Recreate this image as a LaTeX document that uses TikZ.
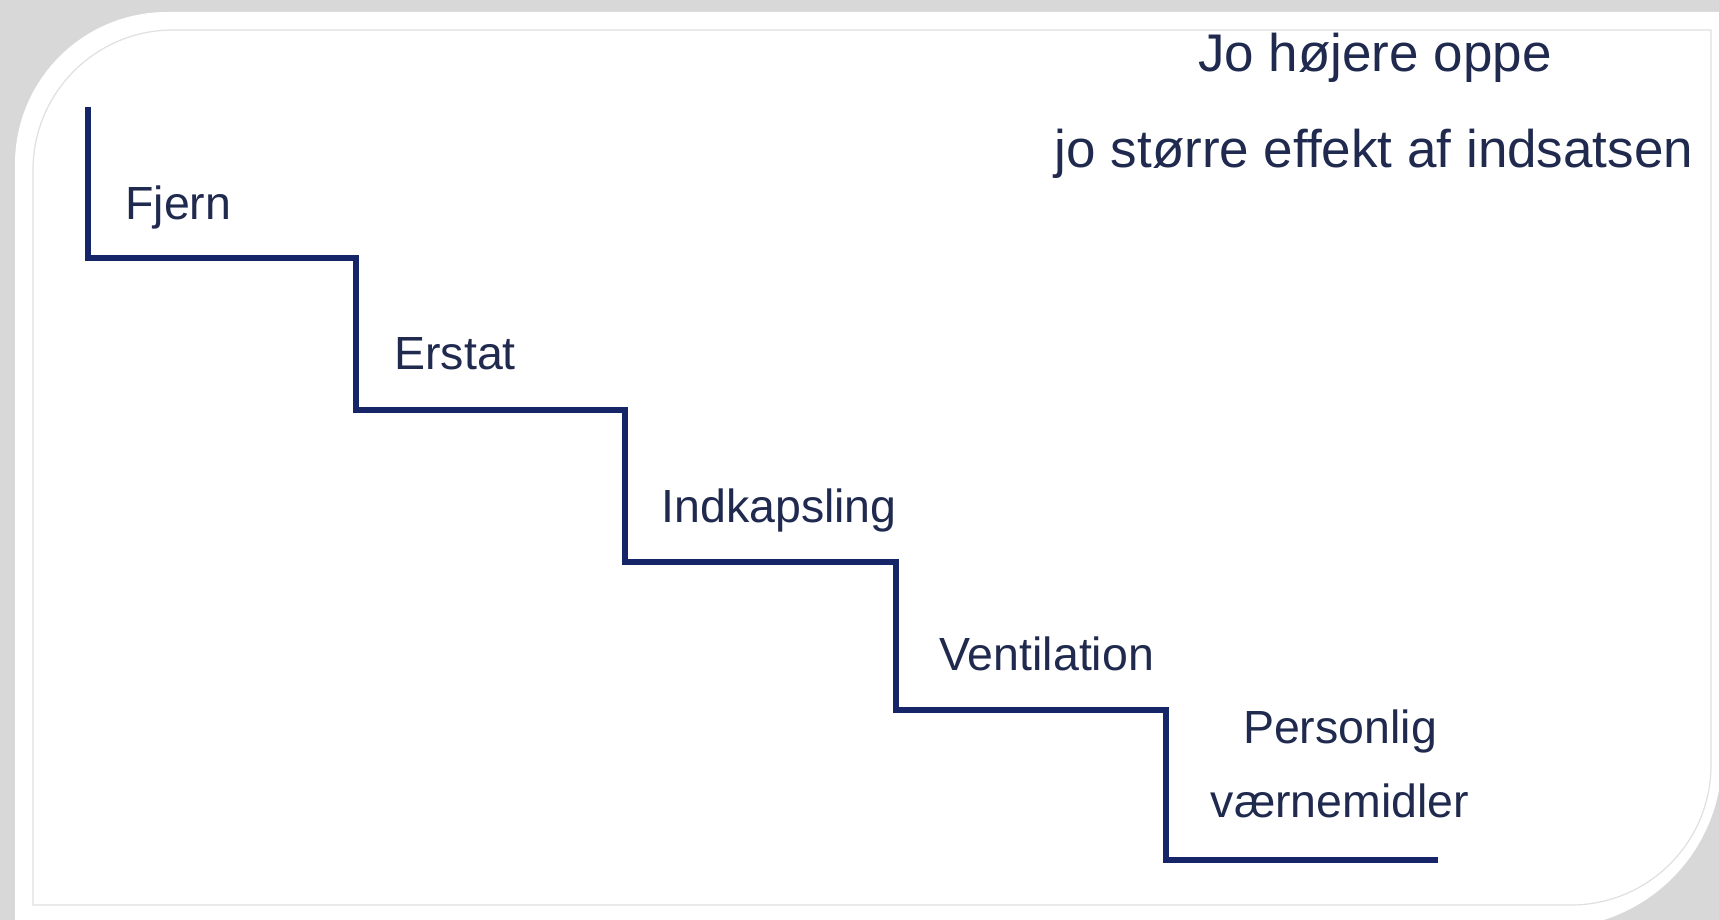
\documentclass[tikz,border=0pt]{standalone}
\usepackage{fontspec}
\setmainfont{Liberation Sans}
\definecolor{navy}{RGB}{22,36,104}
\definecolor{txt}{RGB}{32,42,78}
\definecolor{bg}{RGB}{216,216,216}
\definecolor{rim}{RGB}{224,224,224}
\begin{document}
\begin{tikzpicture}[x=0.5pt,y=-0.5pt,
  lbl/.style={text=txt, inner sep=0pt, font=\fontsize{23.25}{28}\selectfont},
  ttl/.style={text=txt, inner sep=0pt, font=\fontsize{26.5}{32}\selectfont},
  stair/.style={draw=navy, line width=3.2pt, line join=miter, line cap=butt}]
\useasboundingbox (0,0) rectangle (1719,920);
% background and card
\fill[bg] (0,0) rectangle (1719,920);
\fill[white] (15,164) arc[start angle=180,end angle=90,radius=76pt] -- (1722,12) -- (1722,758)
  arc[start angle=0,end angle=-90,radius=85pt] -- (15,928) -- cycle;
\draw[rim, line width=0.6pt] (33,170) arc[start angle=180,end angle=90,radius=70pt] -- (1711,30) -- (1711,765)
  arc[start angle=0,end angle=-90,radius=70pt] -- (33,905) -- cycle;
% stair corners
\coordinate (s0) at (88,107);
\coordinate (s1) at (88,258);
\coordinate (s2) at (356,258);
\coordinate (s3) at (356,410);
\coordinate (s4) at (625,410);
\coordinate (s5) at (625,562);
\coordinate (s6) at (896,562);
\coordinate (s7) at (896,710);
\coordinate (s8) at (1166,710);
\coordinate (s9) at (1166,860);
\coordinate (s10) at (1438,860);
\draw[stair] (s0) -- (s1) -- (s2) -- (s3) -- (s4) -- (s5) -- (s6) -- (s7) -- (s8) -- (s9) -- (s10);
% labels
\node[lbl, anchor=base west] (fjern) at (125,220) {Fjern};
\node[lbl, anchor=base west] (erstat) at (394,369) {Erstat};
\node[lbl, anchor=base west] (indk) at (661,522) {Indkapsling};
\node[lbl, anchor=base west] (vent) at (939,670) {Ventilation};
\node[lbl, anchor=base] (pers) at (1340,743) {Personlig};
\node[lbl, anchor=base] (vaern) at (1340,817) {værnemidler};
\node[ttl, anchor=base] (t1) at (1375,72) {Jo højere oppe};
\node[ttl, anchor=base] (t2) at (1374,168) {jo større effekt af indsatsen};
\end{tikzpicture}
\end{document}
